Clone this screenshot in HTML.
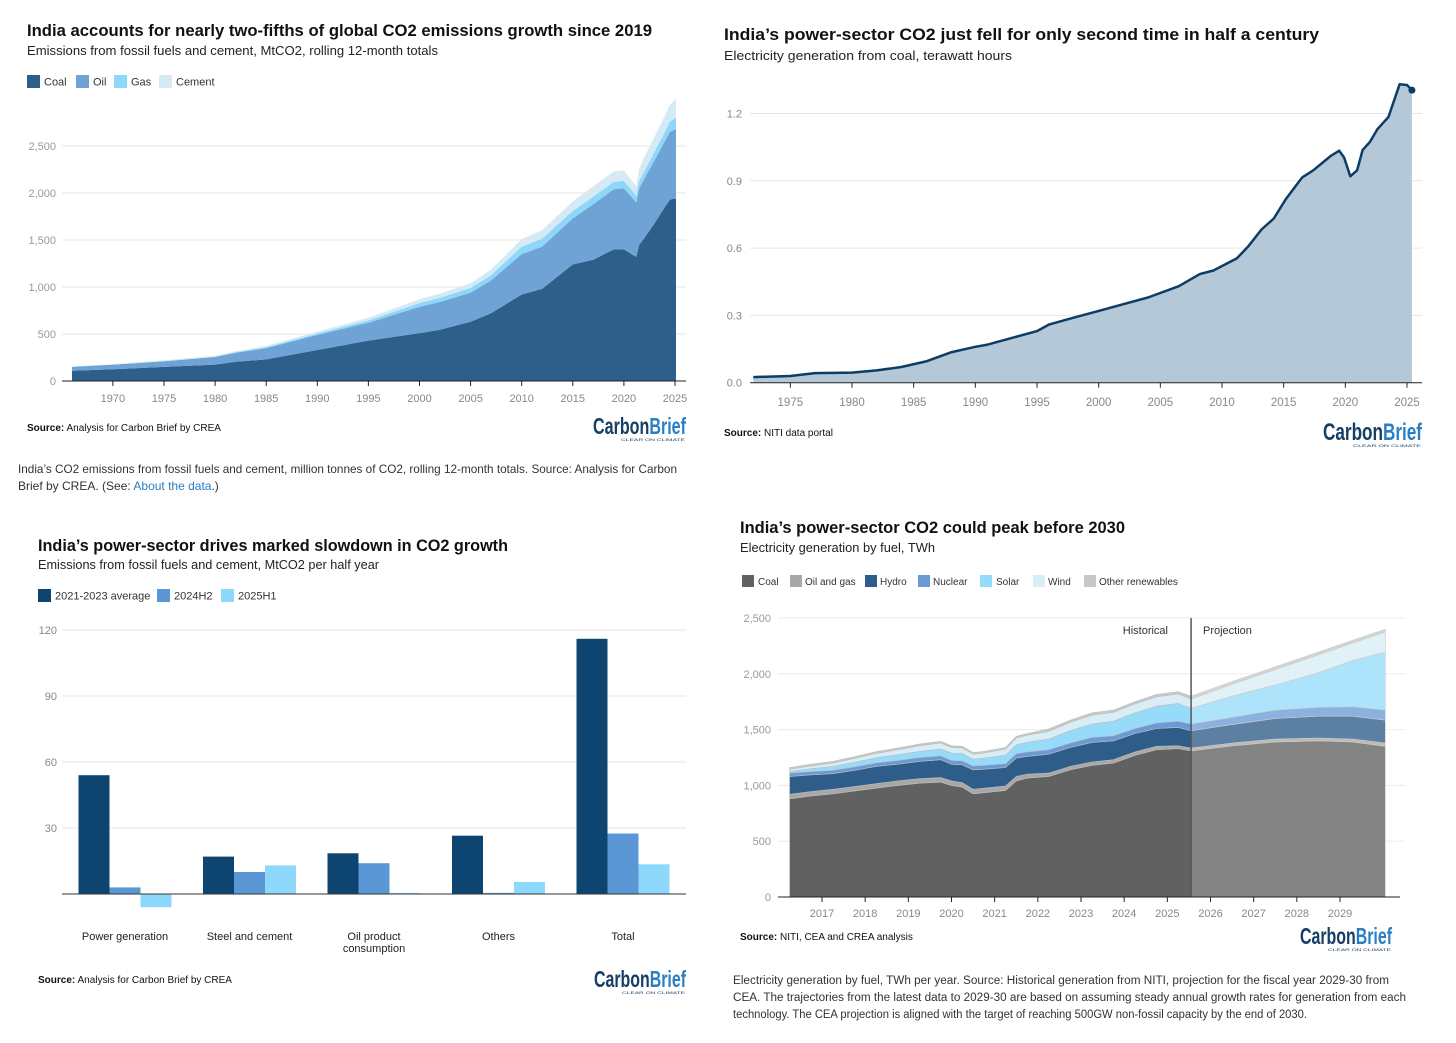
<!DOCTYPE html>
<html><head><meta charset="utf-8"><style>
html,body{margin:0;padding:0;background:#fff;}
svg{display:block;font-family:"Liberation Sans",sans-serif;}
</style></head><body>
<svg id="root" width="1456" height="1043" viewBox="0 0 1456 1043" xmlns="http://www.w3.org/2000/svg">
<rect width="1456" height="1043" fill="#fff"/>

<!-- Chart 1 -->
<g id="c1">
<text x="27" y="36" font-size="17" font-weight="bold" fill="#111" textLength="625" lengthAdjust="spacingAndGlyphs">India accounts for nearly two-fifths of global CO2 emissions growth since 2019</text>
<text x="27" y="55" font-size="13" fill="#222" textLength="411" lengthAdjust="spacingAndGlyphs">Emissions from fossil fuels and cement, MtCO2, rolling 12-month totals</text>
<g font-size="11" fill="#333">
<rect x="27" y="75" width="13" height="13" fill="#2e5f8a"/><text x="44" y="85.5">Coal</text>
<rect x="76" y="75" width="13" height="13" fill="#6fa3d6"/><text x="93" y="85.5">Oil</text>
<rect x="114" y="75" width="13" height="13" fill="#8dd8f8"/><text x="131" y="85.5">Gas</text>
<rect x="159" y="75" width="13" height="13" fill="#d6eaf5"/><text x="176" y="85.5">Cement</text>
</g>
<g id="c1grid"></g><g id="c1areas"></g><g id="c1axis"></g>
<text x="27" y="431" font-size="10" fill="#111"><tspan font-weight="bold">Source:</tspan> Analysis for Carbon Brief by CREA</text>
<g transform="translate(593,415)"><text x="0" y="19" font-size="23" font-weight="bold" textLength="93" lengthAdjust="spacingAndGlyphs"><tspan fill="#173f66">Carbon</tspan><tspan fill="#2a7fc4">Brief</tspan></text><text x="28" y="26" font-size="4" fill="#173f66" textLength="64" lengthAdjust="spacingAndGlyphs">CLEAR ON CLIMATE</text></g>
<text x="18" y="473" font-size="12" fill="#333" textLength="659" lengthAdjust="spacingAndGlyphs">India’s CO2 emissions from fossil fuels and cement, million tonnes of CO2, rolling 12-month totals. Source: Analysis for Carbon</text>
<text x="18" y="490" font-size="12" fill="#333">Brief by CREA. (See: <tspan fill="#2a7fc4">About the data</tspan>.)</text>
</g>

<!-- Chart 2 -->
<g id="c2">
<text x="724" y="40" font-size="17" font-weight="bold" fill="#111" textLength="595" lengthAdjust="spacingAndGlyphs">India’s power-sector CO2 just fell for only second time in half a century</text>
<text x="724" y="60" font-size="13" fill="#222" textLength="288" lengthAdjust="spacingAndGlyphs">Electricity generation from coal, terawatt hours</text>
<g id="c2grid"></g><g id="c2area"></g><g id="c2axis"></g>
<text x="724" y="436" font-size="10" fill="#111"><tspan font-weight="bold">Source:</tspan> NITI data portal</text>
<g transform="translate(1323,420)"><text x="0" y="20" font-size="24" font-weight="bold" textLength="99" lengthAdjust="spacingAndGlyphs"><tspan fill="#173f66">Carbon</tspan><tspan fill="#2a7fc4">Brief</tspan></text><text x="30" y="27" font-size="4" fill="#173f66" textLength="68" lengthAdjust="spacingAndGlyphs">CLEAR ON CLIMATE</text></g>
</g>

<!-- Chart 3 -->
<g id="c3">
<text x="38" y="551" font-size="17" font-weight="bold" fill="#111" textLength="470" lengthAdjust="spacingAndGlyphs">India’s power-sector drives marked slowdown in CO2 growth</text>
<text x="38" y="569" font-size="13" fill="#222" textLength="341" lengthAdjust="spacingAndGlyphs">Emissions from fossil fuels and cement, MtCO2 per half year</text>
<g font-size="11" fill="#333">
<rect x="38" y="589" width="13" height="13" fill="#0d4470"/><text x="55" y="599.5">2021-2023 average</text>
<rect x="157" y="589" width="13" height="13" fill="#5b97d4"/><text x="174" y="599.5">2024H2</text>
<rect x="221" y="589" width="13" height="13" fill="#8ed8fb"/><text x="238" y="599.5">2025H1</text>
</g>
<g id="c3grid"></g><g id="c3bars"></g><g id="c3axis"></g>
<text x="38" y="983" font-size="10" fill="#111"><tspan font-weight="bold">Source:</tspan> Analysis for Carbon Brief by CREA</text>
<g transform="translate(594,968)"><text x="0" y="19" font-size="23" font-weight="bold" textLength="92" lengthAdjust="spacingAndGlyphs"><tspan fill="#173f66">Carbon</tspan><tspan fill="#2a7fc4">Brief</tspan></text><text x="28" y="26" font-size="4" fill="#173f66" textLength="63" lengthAdjust="spacingAndGlyphs">CLEAR ON CLIMATE</text></g>
</g>

<!-- Chart 4 -->
<g id="c4">
<text x="740" y="533" font-size="17" font-weight="bold" fill="#111" textLength="385" lengthAdjust="spacingAndGlyphs">India’s power-sector CO2 could peak before 2030</text>
<text x="740" y="552" font-size="13" fill="#222" textLength="195" lengthAdjust="spacingAndGlyphs">Electricity generation by fuel, TWh</text>
<g font-size="10" fill="#333">
<rect x="742" y="575" width="12" height="12" fill="#616161"/><text x="758" y="585">Coal</text>
<rect x="790" y="575" width="12" height="12" fill="#a8a8a8"/><text x="805" y="585">Oil and gas</text>
<rect x="865" y="575" width="12" height="12" fill="#2d5d88"/><text x="880" y="585">Hydro</text>
<rect x="918" y="575" width="12" height="12" fill="#6b9bd6"/><text x="933" y="585">Nuclear</text>
<rect x="980" y="575" width="12" height="12" fill="#96dcfa"/><text x="996" y="585">Solar</text>
<rect x="1033" y="575" width="12" height="12" fill="#d8edf5"/><text x="1048" y="585">Wind</text>
<rect x="1084" y="575" width="12" height="12" fill="#c8c8c8"/><text x="1099" y="585">Other renewables</text>
</g>
<g id="c4grid"></g><g id="c4areas"></g><g id="c4axis"></g>
<text x="1168" y="634" font-size="11" fill="#333" text-anchor="end">Historical</text>
<text x="1203" y="634" font-size="11" fill="#333">Projection</text>
<text x="740" y="940" font-size="10" fill="#111"><tspan font-weight="bold">Source:</tspan> NITI, CEA and CREA analysis</text>
<g transform="translate(1300,925)"><text x="0" y="19" font-size="23" font-weight="bold" textLength="92" lengthAdjust="spacingAndGlyphs"><tspan fill="#173f66">Carbon</tspan><tspan fill="#2a7fc4">Brief</tspan></text><text x="28" y="26" font-size="4" fill="#173f66" textLength="63" lengthAdjust="spacingAndGlyphs">CLEAR ON CLIMATE</text></g>
<text x="733" y="984" font-size="11.5" fill="#333" textLength="656" lengthAdjust="spacingAndGlyphs">Electricity generation by fuel, TWh per year. Source: Historical generation from NITI, projection for the fiscal year 2029-30 from</text>
<text x="733" y="1001" font-size="11.5" fill="#333" textLength="673" lengthAdjust="spacingAndGlyphs">CEA. The trajectories from the latest data to 2029-30 are based on assuming steady annual growth rates for generation from each</text>
<text x="733" y="1018" font-size="11.5" fill="#333" textLength="574" lengthAdjust="spacingAndGlyphs">technology. The CEA projection is aligned with the target of reaching 500GW non-fossil capacity by the end of 2030.</text>
</g>
</svg>
<script>
// ---- Chart 1 data ----
const c1Years = [1966,1970,1975,1980,1982,1985,1990,1995,2000,2002,2005,2007,2010,2012,2015,2017,2019,2020,2021.2,2021.5,2022,2023,2024,2024.5,2024.9,2025.1];
const c1Coal = [110,125,150,175,205,230,330,430,510,545,630,720,920,980,1240,1290,1400,1400,1320,1450,1520,1680,1850,1930,1940,1940];
const c1Oil = [40,50,60,80,95,120,160,190,280,295,310,350,430,450,490,590,640,650,580,600,630,670,700,720,730,740];
const c1Gas = [0,0,0,3,5,8,15,25,40,45,50,55,80,85,80,80,80,80,70,80,80,90,100,110,120,120];
const c1Cement = [5,5,10,10,12,15,20,30,40,45,50,60,80,90,100,110,110,110,100,130,150,160,170,180,190,200];
const c1YTicks = [0,500,1000,1500,2000,2500];
const c1XTicks = [1970,1975,1980,1985,1990,1995,2000,2005,2010,2015,2020,2025];

// ---- Chart 2 data ----
const c2Years = [1972,1975,1977,1980,1982,1984,1986,1988,1990,1991,1993,1995,1996,1998,2000,2002,2004,2006.5,2008.2,2009.3,2011.2,2012.1,2013.2,2014.2,2015.2,2016.5,2017.4,2018.8,2019.5,2019.9,2020.4,2020.95,2021.4,2022.0,2022.6,2023.5,2024.4,2025.0,2025.4];
const c2Values = [0.025,0.03,0.043,0.045,0.055,0.07,0.095,0.135,0.16,0.17,0.2,0.23,0.26,0.29,0.32,0.35,0.38,0.43,0.484,0.5,0.554,0.606,0.683,0.732,0.82,0.915,0.947,1.01,1.034,1.004,0.92,0.947,1.037,1.074,1.13,1.185,1.33,1.327,1.304];
const c2YTicks = [0,0.3,0.6,0.9,1.2];
const c2XTicks = [1975,1980,1985,1990,1995,2000,2005,2010,2015,2020,2025];

// ---- Chart 3 data ----
const c3Categories = ["Power generation","Steel and cement","Oil product|consumption","Others","Total"];
const c3Avg = [54,17,18.5,26.5,116];
const c3H2 = [3,10,14,0.5,27.5];
const c3H1 = [-6,13,0.5,5.5,13.5];
const c3YTicks = [30,60,90,120];

// ---- Chart 4 data ----
const c4Years = [2016.25,2016.75,2017.25,2017.75,2018.25,2018.75,2019.25,2019.75,2020.0,2020.25,2020.5,2020.75,2021.25,2021.5,2021.75,2022.25,2022.75,2023.25,2023.75,2024.25,2024.75,2025.25,2025.55,2026.5,2027.5,2028.5,2029.3,2030.05];
const c4Coal = [880,905,925,950,975,1000,1020,1030,1000,985,925,935,955,1040,1065,1080,1140,1180,1200,1270,1320,1330,1310,1355,1390,1400,1390,1350];
const c4OilGas = [40,40,40,40,40,40,40,40,40,40,40,40,40,40,35,30,30,30,30,30,30,25,25,25,25,25,25,30];
const c4Hydro = [160,150,140,145,155,150,155,160,150,160,175,170,165,165,160,170,170,175,170,165,160,165,155,165,185,195,205,205];
const c4Nuclear = [30,30,30,32,32,34,35,35,35,35,35,35,35,40,40,40,40,45,45,45,50,55,60,65,75,80,85,90];
const c4Solar = [15,25,35,40,45,50,55,60,65,65,60,65,75,80,85,95,110,120,130,140,150,160,140,190,225,310,415,520];
const c4Wind = [20,25,30,35,40,45,50,55,50,50,45,45,55,60,65,70,75,80,80,80,85,85,85,105,138,160,156,180];
const c4Other = [15,15,15,15,15,15,15,15,15,15,15,15,15,15,15,20,20,20,20,20,20,20,25,26,25,25,25,25];
const c4YTicks = [0,500,1000,1500,2000,2500];
const c4XTicks = [2017,2018,2019,2020,2021,2022,2023,2024,2025,2026,2027,2028,2029];
const c4Split = 2025.55;

const NS = "http://www.w3.org/2000/svg";
function mk(tag, attrs, parent){ const e=document.createElementNS(NS,tag); for(const k in attrs) e.setAttribute(k,attrs[k]); parent.appendChild(e); return e; }
function fmt(v){ return v.toLocaleString("en-US"); }
function lin(d0,d1,r0,r1){ return v => r0 + (v-d0)*(r1-r0)/(d1-d0); }

function stack(parentId, xs, series, colors, names, xf, yf, stroke){
  const g=document.getElementById(parentId);
  let base = xs.map(()=>0);
  series.forEach((s,i)=>{
    const top = s.map((v,j)=>base[j]+v);
    let d = "M"+xs.map((x,j)=>xf(x).toFixed(1)+","+yf(top[j]).toFixed(1)).join("L");
    for(let j=xs.length-1;j>=0;j--) d += "L"+xf(xs[j]).toFixed(1)+","+yf(base[j]).toFixed(1);
    d+="Z";
    const p = mk("path",{d:d,fill:colors[i]},g);
    if(stroke){ p.setAttribute("stroke",stroke); p.setAttribute("stroke-width","0.6"); }
    
    
    base = top;
  });
}

// Chart 1
(function(){
  const xf=lin(1966,2025,72,675), yf=lin(0,2500,381,146);
  const gg=document.getElementById("c1grid"), ga=document.getElementById("c1axis");
  c1YTicks.forEach(t=>{
    if(t>0){ const l=mk("line",{x1:62,x2:686,y1:yf(t),y2:yf(t),stroke:"#e6e6e6","stroke-width":1},gg);
      }
    const tx=mk("text",{x:56,y:yf(t)+4,"text-anchor":"end","font-size":11,fill:"#999"},ga); tx.textContent=fmt(t);
     
  });
  stack("c1areas",c1Years,[c1Coal,c1Oil,c1Gas,c1Cement],["#2e5f8a","#6fa3d6","#8dd8f8","#d6eaf5"],["area-coal","area-oil","area-gas","area-cement"],xf,yf,null);
  const ax=mk("line",{x1:62,x2:686,y1:381,y2:381,stroke:"#222","stroke-width":1},ga);
   
  c1XTicks.forEach(t=>{
    mk("line",{x1:xf(t),x2:xf(t),y1:381,y2:386,stroke:"#222"},ga);
    const tx=mk("text",{x:xf(t),y:402,"text-anchor":"middle","font-size":11,fill:"#888"},ga); tx.textContent=t;
     
  });
})();

// Chart 2
(function(){
  const xf=lin(2010,2025,1222,1407), yf=lin(0,1.2,382.7,113.5);
  const gg=document.getElementById("c2grid"), ga=document.getElementById("c2axis"), g=document.getElementById("c2area");
  c2YTicks.forEach(t=>{
    if(t>0){ const l=mk("line",{x1:750,x2:1422,y1:yf(t),y2:yf(t),stroke:"#e6e6e6"},gg);
      }
    const tx=mk("text",{x:742,y:yf(t)+4,"text-anchor":"end","font-size":11,fill:"#888"},ga); tx.textContent=t.toFixed(1);
     
  });
  const pts=c2Years.map((y,i)=>xf(y).toFixed(1)+","+yf(c2Values[i]).toFixed(1));
  const area=mk("path",{d:"M"+pts.join("L")+"L"+xf(c2Years[c2Years.length-1])+","+yf(0)+"L"+xf(c2Years[0])+","+yf(0)+"Z",fill:"#b5c8d8"},g);
   
  const line=mk("path",{d:"M"+pts.join("L"),fill:"none",stroke:"#0d3d66","stroke-width":2.5,"stroke-linejoin":"round"},g);
   
  const n=c2Years.length-1;
  const dot=mk("circle",{cx:xf(c2Years[n]),cy:yf(c2Values[n]),r:3.5,fill:"#0d3d66"},g);
   
  const ax=mk("line",{x1:750,x2:1422,y1:yf(0),y2:yf(0),stroke:"#222"},ga);
   
  c2XTicks.forEach(t=>{
    mk("line",{x1:xf(t),x2:xf(t),y1:yf(0),y2:yf(0)+5,stroke:"#222"},ga);
    const tx=mk("text",{x:xf(t),y:406,"text-anchor":"middle","font-size":11.5,fill:"#888"},ga); tx.textContent=t;
     
  });
})();

// Chart 3
(function(){
  const yf=lin(0,120,894,630);
  const gg=document.getElementById("c3grid"), ga=document.getElementById("c3axis"), gb=document.getElementById("c3bars");
  c3YTicks.forEach(t=>{
    const l=mk("line",{x1:62,x2:686,y1:yf(t),y2:yf(t),stroke:"#e6e6e6"},gg);
     
    const tx=mk("text",{x:57,y:yf(t)+4,"text-anchor":"end","font-size":11,fill:"#888"},ga); tx.textContent=t;
     
  });
  const step=124.5, x0=125, bw=31;
  const sets=[[c3Avg,"#0d4470","avg"],[c3H2,"#5b97d4","2024h2"],[c3H1,"#8ed8fb","2025h1"]];
  c3Categories.forEach((c,i)=>{
    const cx=x0+i*step;
    sets.forEach((s,k)=>{
      const v=s[0][i], y1=yf(Math.max(v,0)), y2=yf(Math.min(v,0));
      const r=mk("rect",{x:cx-1.5*bw+k*bw,y:y1,width:bw,height:Math.max(y2-y1,0.8),fill:s[1]},gb);
       
    });
    const parts=c.split("|");
    parts.forEach((p,j)=>{
      const tx=mk("text",{x:cx,y:940+j*12,"text-anchor":"middle","font-size":11,fill:"#222"},ga); tx.textContent=p;
       
    });
  });
  const ax=mk("line",{x1:62,x2:686,y1:yf(0),y2:yf(0),stroke:"#333"},ga);
   
})();

// Chart 4
(function(){
  const xf=lin(2017,2029,822,1340), yf=lin(0,2500,897,618);
  const gg=document.getElementById("c4grid"), ga=document.getElementById("c4axis");
  c4YTicks.forEach(t=>{
    if(t>0){ const l=mk("line",{x1:778,x2:1405,y1:yf(t),y2:yf(t),stroke:"#eaeaea"},gg);
      }
    const tx=mk("text",{x:771,y:yf(t)+4,"text-anchor":"end","font-size":11,fill:"#999"},ga); tx.textContent=fmt(t);
     
  });
  stack("c4areas",c4Years,[c4Coal,c4OilGas,c4Hydro,c4Nuclear,c4Solar,c4Wind,c4Other],["#616161","#a8a8a8","#2d5d88","#6b9bd6","#96dcfa","#d8edf5","#c8c8c8"],["area-coal","area-oil-gas","area-hydro","area-nuclear","area-solar","area-wind","area-other-renewables"],xf,yf,"#bdbdbd");
  const g=document.getElementById("c4areas");
  const sx=xf(c4Split);
  const ov=mk("rect",{x:sx,y:600,width:1400-sx,height:yf(0)-600,fill:"#fff","fill-opacity":0.22},g);
   
  const dl=mk("line",{x1:sx,x2:sx,y1:618,y2:yf(0),stroke:"#555","stroke-width":1.5},ga);
   
  const ax=mk("line",{x1:778,x2:1400,y1:yf(0),y2:yf(0),stroke:"#222"},ga);
   
  c4XTicks.forEach(t=>{
    mk("line",{x1:xf(t),x2:xf(t),y1:yf(0),y2:yf(0)+5,stroke:"#222"},ga);
    const tx=mk("text",{x:xf(t),y:917,"text-anchor":"middle","font-size":11,fill:"#888"},ga); tx.textContent=t;
     
  });
})();
</script>
</body></html>
